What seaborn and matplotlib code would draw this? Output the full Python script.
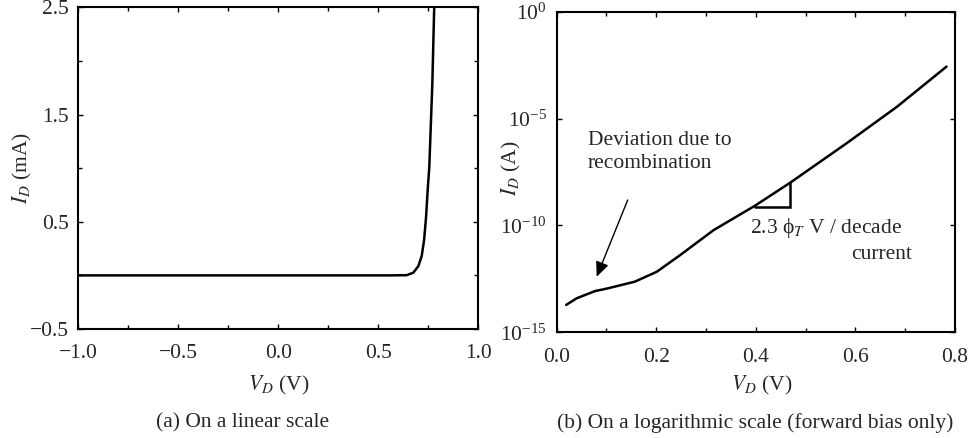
import numpy as np
import pandas as pd
import matplotlib
matplotlib.use("Agg")
import matplotlib.pyplot as plt
from matplotlib.ticker import MultipleLocator, NullLocator, FixedLocator, LogFormatterSciNotation
import seaborn as sns

# ---- data ----
lin_v = [-1.0, 0.559, 0.642, 0.675, 0.700, 0.717, 0.729, 0.739, 0.747, 0.755, 0.770, 0.779, 0.780]
lin_i_mA = [0.0, 0.0, 0.002, 0.025, 0.086, 0.18, 0.33, 0.55, 0.80, 1.01, 1.78, 2.46, 2.5]

log_v = [0.019, 0.040, 0.077, 0.100, 0.157, 0.201, 0.248, 0.315, 0.398, 0.469, 0.582, 0.683, 0.783]
log_i_A = [1.91e-14, 3.89e-14, 8.5e-14, 1.10e-13, 2.34e-13, 6.8e-13, 4.1e-12, 6.0e-11,
           8.3e-10, 1.0e-8, 6.9e-7, 3.5e-5, 2.7e-3]

slope_v = [0.398, 0.469, 0.469]
slope_i = [7.1e-10, 7.1e-10, 1.0e-8]

lin_xticks = [-1.0, -0.5, 0.0, 0.5, 1.0]
lin_yticks = [-0.5, 0.5, 1.5, 2.5]
log_xticks = [0.0, 0.2, 0.4, 0.6, 0.8]
log_yticks = [1e-15, 1e-10, 1e-5, 1e0]

sns.set_style("ticks")
plt.rcParams["font.family"] = ["Liberation Serif", "DejaVu Serif"]
plt.rcParams["mathtext.fontset"] = "stix"
plt.rcParams["axes.unicode_minus"] = True

FS = 15.5
LW = 1.8

fig = plt.figure(figsize=(9.71, 4.38), dpi=100)
ax1 = fig.add_axes([78.3 / 971, 1 - 329 / 438, 400 / 971, (329 - 7.3) / 438])
ax2 = fig.add_axes([556.7 / 971, 1 - 332.3 / 438, (955 - 556.7) / 971, (332.3 - 11.7) / 438])

df_lin = pd.DataFrame({"V": lin_v, "I": lin_i_mA})
df_log = pd.DataFrame({"V": log_v, "I": log_i_A})

sns.lineplot(data=df_lin, x="V", y="I", ax=ax1, color="black", linewidth=LW, sort=False)
sns.lineplot(data=df_log, x="V", y="I", ax=ax2, color="black", linewidth=LW, sort=False)

for ax in (ax1, ax2):
    for s in ax.spines.values():
        s.set_linewidth(1.5)
        s.set_color("black")
        s.set_visible(True)
    ax.tick_params(which="both", direction="in", top=True, right=True,
                   width=1.0, color="black", labelsize=FS)
    ax.tick_params(which="major", length=3.5)
    ax.tick_params(which="minor", length=3.0)
    ax.tick_params(axis="x", which="major", pad=11)
    ax.tick_params(axis="y", which="major", pad=7)

# linear axes
ax1.set_xlim(-1.0, 1.0)
ax1.set_ylim(-0.5, 2.5)
ax1.xaxis.set_major_locator(FixedLocator(lin_xticks))
ax1.xaxis.set_minor_locator(MultipleLocator(0.25))
ax1.yaxis.set_major_locator(FixedLocator(lin_yticks))
ax1.yaxis.set_minor_locator(FixedLocator([0.0, 1.0, 2.0]))
ax1.set_xlabel(r"$V_D$ (V)", fontsize=FS)
ax1.set_ylabel(r"$I_D$ (mA)", fontsize=FS)
ax1.xaxis.set_label_coords(0.5, (329 - 385) / 321.7)
ax1.xaxis.label.set_va("center")
ax1.yaxis.set_label_coords((22 - 78.3) / 400, 0.5)
ax1.yaxis.label.set_va("center")

# log axes
ax2.set_yscale("log")
ax2.set_xlim(0.0, 0.8)
ax2.set_ylim(1e-15, 1e0)
ax2.xaxis.set_major_locator(FixedLocator(log_xticks))
ax2.xaxis.set_minor_locator(MultipleLocator(0.1))
ax2.yaxis.set_major_locator(FixedLocator(log_yticks))
ax2.yaxis.set_minor_locator(NullLocator())
ax2.yaxis.set_major_formatter(LogFormatterSciNotation())
ax2.set_xlabel(r"$V_D$ (V)", fontsize=FS)
ax2.set_ylabel(r"$I_D$ (A)", fontsize=FS)
ax2.xaxis.set_label_coords((762 - 556.7) / 398.3, (332.3 - 385) / 320.6)
ax2.xaxis.label.set_va("center")
ax2.yaxis.set_label_coords((511 - 556.7) / 398.3, (332.3 - 168) / 320.6)
ax2.yaxis.label.set_va("center")

# slope triangle
ax2.plot(slope_v, slope_i, color="black", linewidth=LW, solid_joinstyle="miter")

# annotations
ax2.text(0.063, 10 ** -5.58, "Deviation due to\nrecombination", fontsize=FS,
         ha="left", va="top", linespacing=1.3)
ax2.annotate("", xy=(0.0803, 10 ** -12.40), xytext=(0.1426, 10 ** -8.81),
             arrowprops=dict(arrowstyle="-|>,head_length=0.9,head_width=0.4",
                             color="black", lw=1.0, shrinkA=0, shrinkB=0,
                             mutation_scale=10))
ax2.text(0.388, 10 ** -10.12, "2.3 \u03d5$_T$ V / decade", fontsize=FS, ha="left", va="center")
ax2.text(0.714, 10 ** -11.36, "current", fontsize=FS, ha="right", va="center")

# captions
fig.text(243 / 971, 1 - 423 / 438, "(a) On a linear scale", fontsize=FS, ha="center", va="center")
fig.text(755 / 971, 1 - 423 / 438, "(b) On a logarithmic scale (forward bias only)",
         fontsize=FS, ha="center", va="center")

fig.savefig("out.png", dpi=100)
